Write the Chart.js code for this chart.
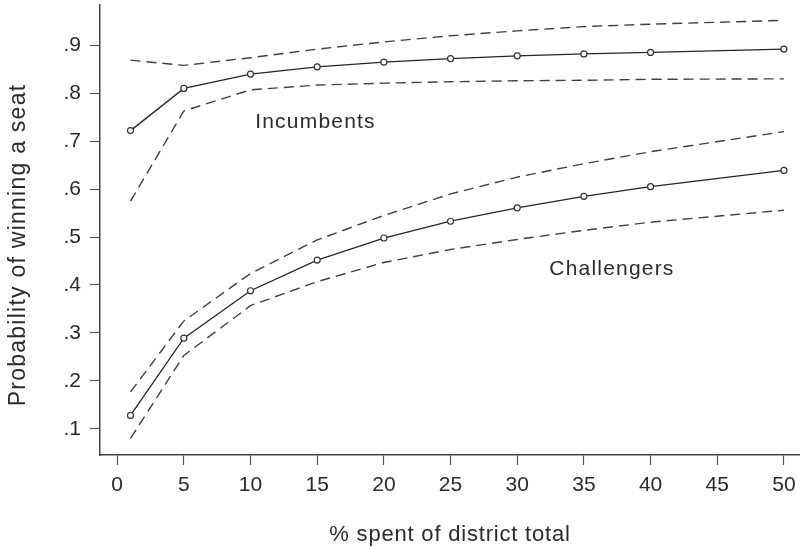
<!DOCTYPE html>
<html>
<head>
<meta charset="utf-8">
<script src="https://cdn.jsdelivr.net/npm/chart.js@4"></script>
<style>
  html, body { margin: 0; padding: 0; background: #fff; }
  #wrap { width: 805px; height: 548px; }
</style>
</head>
<body>
<div id="wrap"><canvas id="myChart"></canvas></div>
<script>
// spending share (% of district total)
const spent = [1, 5, 10, 15, 20, 25, 30, 35, 40, 50];

const incumbents      = [0.722, 0.810, 0.840, 0.855, 0.865, 0.872, 0.878, 0.882, 0.885, 0.892];
const incumbentsUpper = [0.869, 0.858, 0.874, 0.892, 0.907, 0.920, 0.930, 0.939, 0.944, 0.952];
const incumbentsLower = [0.575, 0.763, 0.807, 0.817, 0.821, 0.824, 0.826, 0.827, 0.829, 0.830];

const challengers      = [0.128, 0.289, 0.388, 0.452, 0.498, 0.533, 0.561, 0.585, 0.605, 0.639];
const challengersUpper = [0.177, 0.325, 0.424, 0.494, 0.545, 0.590, 0.625, 0.653, 0.678, 0.720];
const challengersLower = [0.080, 0.253, 0.357, 0.407, 0.447, 0.474, 0.495, 0.514, 0.531, 0.556];

const xTicks = [0, 5, 10, 15, 20, 25, 30, 35, 40, 45, 50];
const yTicks = [0.1, 0.2, 0.3, 0.4, 0.5, 0.6, 0.7, 0.8, 0.9];

const FONT = 'Liberation Sans, Arial, Helvetica, sans-serif';
const INK = '#2b2b2b';

function pts(ys) {
    return spent.map((x, i) => ({ x: x, y: ys[i] }));
}

function solid(label, ys) {
    return {
        label: label,
        data: pts(ys),
        borderColor: '#262626',
        borderWidth: 1.3,
        pointRadius: 3,
        pointBorderWidth: 1.2,
        pointBackgroundColor: '#fff',
        pointBorderColor: '#333',
        tension: 0,
    };
}

function dashed(label, ys) {
    return {
        label: label,
        data: pts(ys),
        borderColor: '#404040',
        borderWidth: 1.4,
        borderDash: [10, 6],
        pointRadius: 0,
        tension: 0,
    };
}

// group labels and axis titles (drawn by hand for the wider letter spacing)
const textBits = {
    id: 'textBits',
    afterDatasetsDraw(chart) {
        const c = chart.ctx;
        const xs = chart.scales.x, ys = chart.scales.y;
        c.save();
        c.fillStyle = INK;
        c.textAlign = 'center';
        c.textBaseline = 'alphabetic';

        c.font = '21px ' + FONT;
        c.letterSpacing = '1.2px';
        c.fillText('Incumbents', xs.getPixelForValue(14.87), ys.getPixelForValue(0.727));
        c.fillText('Challengers', xs.getPixelForValue(37.1), ys.getPixelForValue(0.421));

        c.font = '22px ' + FONT;
        c.letterSpacing = '0.8px';
        c.fillText('% spent of district total', 450, 541);

        c.font = '23px ' + FONT;
        c.letterSpacing = '1.25px';
        c.translate(24.5, 245);
        c.rotate(-Math.PI / 2);
        c.fillText('Probability of winning a seat', 0, 0);
        c.restore();
    }
};

const ctx = document.getElementById('myChart');

new Chart(ctx, {
    type: 'line',
    data: {
        datasets: [
            dashed('Incumbents upper', incumbentsUpper),
            dashed('Incumbents lower', incumbentsLower),
            solid('Incumbents', incumbents),
            dashed('Challengers upper', challengersUpper),
            dashed('Challengers lower', challengersLower),
            solid('Challengers', challengers),
        ]
    },
    options: {
        responsive: true,
        maintainAspectRatio: false,
        animation: false,
        layout: { padding: { top: 3, right: 0, left: 0, bottom: 0 } },
        plugins: {
            legend: { display: false },
            tooltip: { enabled: false },
        },
        scales: {
            x: {
                type: 'linear',
                min: -1.288,
                max: 51.19,
                afterBuildTicks: (s) => { s.ticks = xTicks.map(v => ({ value: v })); },
                afterFit: (s) => {
                    s.height = 93;
                    s.paddingLeft = 0; s.paddingRight = 0;
                },
                ticks: {
                    color: INK,
                    font: { family: FONT, size: 21 },
                    padding: 8,
                    maxRotation: 0,
                    autoSkip: false,
                },
                grid: { drawOnChartArea: false, drawTicks: true, tickLength: 10, color: '#555', tickWidth: 1.2 },
                border: { color: '#444', width: 1.5 },
            },
            y: {
                type: 'linear',
                min: 0.0454,
                max: 0.9836,
                afterBuildTicks: (s) => { s.ticks = yTicks.map(v => ({ value: v })); },
                afterFit: (s) => {
                    s.width = 100;
                    s.paddingTop = 0; s.paddingBottom = 0;
                },
                ticks: {
                    color: INK,
                    font: { family: FONT, size: 21 },
                    padding: 9,
                    autoSkip: false,
                    callback: (v) => v.toFixed(1).replace(/^0/, ''),
                },
                grid: { drawOnChartArea: false, drawTicks: true, tickLength: 10, color: '#555', tickWidth: 1.2 },
                border: { color: '#444', width: 1.5 },
            }
        }
    },
    plugins: [textBits]
});
</script>
</body>
</html>
